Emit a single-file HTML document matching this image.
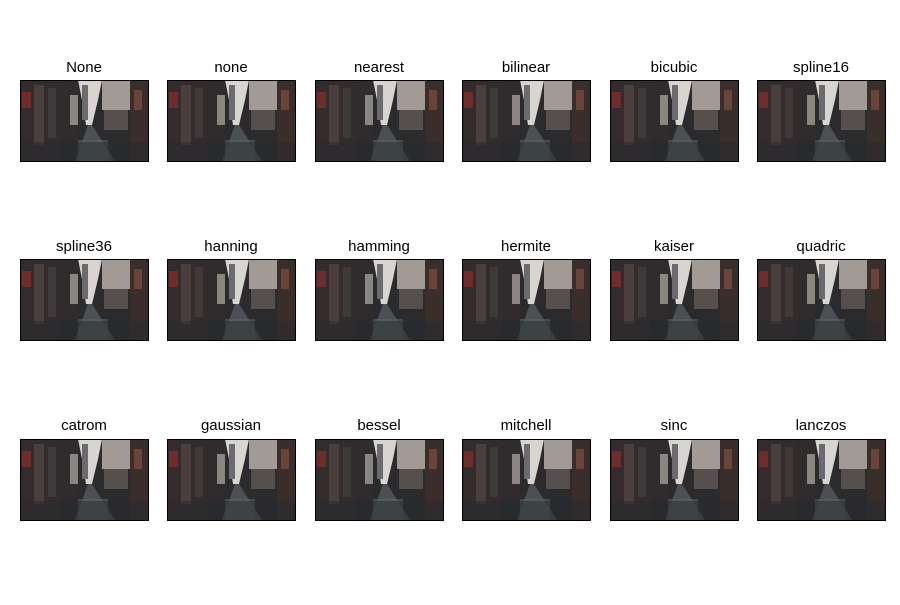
<!DOCTYPE html>
<html><head><meta charset="utf-8"><style>
body{margin:0;background:#fff;width:900px;height:600px;overflow:hidden;font-family:"Liberation Sans","DejaVu Sans",sans-serif}
</style></head><body>
<svg width="900" height="600" xmlns="http://www.w3.org/2000/svg">
<defs>
<g id="city">
<rect x="0" y="0" width="128" height="81" fill="#2b2b2e"/>
<rect x="0" y="0" width="40" height="81" fill="#342c2c"/>
<rect x="2" y="12" width="9" height="16" fill="#6e2c2a"/>
<rect x="14" y="5" width="10" height="60" fill="#4a3f3c"/>
<rect x="28" y="8" width="8" height="50" fill="#3e3a3a"/>
<rect x="40" y="0" width="18" height="60" fill="#302c2d"/>
<polygon points="58,0 82,0 78,20 72,45 66,45 62,20" fill="#d8d4d0"/>
<rect x="62" y="5" width="6" height="35" fill="#6a6a70"/>
<rect x="82" y="0" width="28" height="30" fill="#a29a94"/>
<rect x="84" y="30" width="24" height="20" fill="#55504e"/>
<rect x="110" y="0" width="18" height="81" fill="#3a2e2c"/>
<rect x="114" y="10" width="8" height="20" fill="#6a4438"/>
<rect x="50" y="15" width="8" height="30" fill="#8a8682"/>
<polygon points="55,81 68,45 72,45 95,81" fill="#4c5054"/>
<rect x="58" y="60" width="30" height="21" fill="#5c6064" opacity="0.6"/>
<rect x="0" y="62" width="128" height="19" fill="#262a2e" opacity="0.5"/>
</g>
</defs>
<g font-size="15" fill="#000" text-anchor="middle">
<g><text x="84" y="72">None</text><use href="#city" x="20" y="80"/><rect x="20.5" y="80.5" width="128" height="81" fill="none" stroke="#000"/></g>
<g><text x="231" y="72">none</text><use href="#city" x="167" y="80"/><rect x="167.5" y="80.5" width="128" height="81" fill="none" stroke="#000"/></g>
<g><text x="379" y="72">nearest</text><use href="#city" x="315" y="80"/><rect x="315.5" y="80.5" width="128" height="81" fill="none" stroke="#000"/></g>
<g><text x="526" y="72">bilinear</text><use href="#city" x="462" y="80"/><rect x="462.5" y="80.5" width="128" height="81" fill="none" stroke="#000"/></g>
<g><text x="674" y="72">bicubic</text><use href="#city" x="610" y="80"/><rect x="610.5" y="80.5" width="128" height="81" fill="none" stroke="#000"/></g>
<g><text x="821" y="72">spline16</text><use href="#city" x="757" y="80"/><rect x="757.5" y="80.5" width="128" height="81" fill="none" stroke="#000"/></g>

<g><text x="84" y="251">spline36</text><use href="#city" x="20" y="259"/><rect x="20.5" y="259.5" width="128" height="81" fill="none" stroke="#000"/></g>
<g><text x="231" y="251">hanning</text><use href="#city" x="167" y="259"/><rect x="167.5" y="259.5" width="128" height="81" fill="none" stroke="#000"/></g>
<g><text x="379" y="251">hamming</text><use href="#city" x="315" y="259"/><rect x="315.5" y="259.5" width="128" height="81" fill="none" stroke="#000"/></g>
<g><text x="526" y="251">hermite</text><use href="#city" x="462" y="259"/><rect x="462.5" y="259.5" width="128" height="81" fill="none" stroke="#000"/></g>
<g><text x="674" y="251">kaiser</text><use href="#city" x="610" y="259"/><rect x="610.5" y="259.5" width="128" height="81" fill="none" stroke="#000"/></g>
<g><text x="821" y="251">quadric</text><use href="#city" x="757" y="259"/><rect x="757.5" y="259.5" width="128" height="81" fill="none" stroke="#000"/></g>

<g><text x="84" y="430">catrom</text><use href="#city" x="20" y="439"/><rect x="20.5" y="439.5" width="128" height="81" fill="none" stroke="#000"/></g>
<g><text x="231" y="430">gaussian</text><use href="#city" x="167" y="439"/><rect x="167.5" y="439.5" width="128" height="81" fill="none" stroke="#000"/></g>
<g><text x="379" y="430">bessel</text><use href="#city" x="315" y="439"/><rect x="315.5" y="439.5" width="128" height="81" fill="none" stroke="#000"/></g>
<g><text x="526" y="430">mitchell</text><use href="#city" x="462" y="439"/><rect x="462.5" y="439.5" width="128" height="81" fill="none" stroke="#000"/></g>
<g><text x="674" y="430">sinc</text><use href="#city" x="610" y="439"/><rect x="610.5" y="439.5" width="128" height="81" fill="none" stroke="#000"/></g>
<g><text x="821" y="430">lanczos</text><use href="#city" x="757" y="439"/><rect x="757.5" y="439.5" width="128" height="81" fill="none" stroke="#000"/></g>
</g>
</svg>
</body></html>
